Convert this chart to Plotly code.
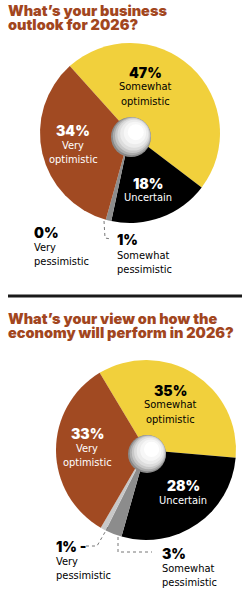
import plotly.graph_objects as go

W, H = 251, 594

# Chart 1 data
labels1 = ["Somewhat optimistic", "Uncertain", "Somewhat pessimistic", "Very pessimistic", "Very optimistic"]
values1 = [47, 18, 1, 0, 34]
# Chart 2 data
labels2 = ["Somewhat optimistic", "Uncertain", "Somewhat pessimistic", "Very pessimistic", "Very optimistic"]
values2 = [35, 28, 3, 1, 33]

colors = ["#F1D03C", "#000000", "#8C8C8C", "#C8C8C8", "#A14A22"]

title1 = ["What\u2019s your business", "outlook for 2026?"]
title2 = ["What\u2019s your view on how the", "economy will perform in 2026?"]

def px(x):
    return x / W

def py(y):
    return 1 - y / H

fig = go.Figure()

def add_pie(values, labels, cx, cy, r, rot):
    fig.add_trace(go.Pie(
        values=values, labels=labels, sort=False, direction="clockwise",
        rotation=rot, marker=dict(colors=colors, line=dict(width=0)),
        textinfo="none", hoverinfo="label+percent", showlegend=False,
        domain=dict(x=[px(cx - r), px(cx + r)], y=[py(cy + r), py(cy - r)]),
    ))

add_pie(values1, labels1, 130, 133, 90, -42)
add_pie(values2, labels2, 146, 450, 90, -31)

shapes = []

def sphere(cx, cy, r):
    layers = [
        (1.00, 0.0, 0.0, "#8a8a8a"),
        (0.95, 0.04, 0.04, "#acacac"),
        (0.88, 0.08, 0.08, "#c8c8c8"),
        (0.80, 0.12, 0.12, "#dddddd"),
        (0.70, 0.16, 0.16, "#ececec"),
        (0.56, 0.20, 0.20, "#f7f7f7"),
        (0.40, 0.24, 0.24, "#ffffff"),
    ]
    for f, ox, oy, col in layers:
        rr = r * f
        dx = ox * r
        dy = oy * r
        shapes.append(dict(type="circle", xref="paper", yref="paper",
                           xsizemode="pixel", ysizemode="pixel",
                           xanchor=px(cx), yanchor=py(cy),
                           x0=dx - rr, x1=dx + rr, y0=dy - rr, y1=dy + rr,
                           fillcolor=col, line=dict(width=0)))

sphere(131, 137, 20)
sphere(147, 454, 19)

def path(points, dash="dot", color="#777777"):
    d = "M " + " L ".join(f"{px(x)},{py(y)}" for x, y in points)
    shapes.append(dict(type="path", xref="paper", yref="paper", path=d,
                       line=dict(color=color, width=1, dash=dash)))

# leader lines
path([(104, 221), (105, 238), (111, 239)])
path([(108, 527), (97, 546), (84, 546)])
path([(118, 537), (118, 552), (152, 552)])

# separator
shapes.append(dict(type="line", xref="paper", yref="paper",
                   x0=px(8), x1=px(242), y0=py(296), y1=py(296),
                   line=dict(color="#1a1a1a", width=3)))

fig.update_layout(shapes=shapes)

TITLE_FONT = dict(family="Inter, Open Sans, sans-serif", size=14.5, weight=900)
BIG = dict(family="Inter, Open Sans, sans-serif", size=14, weight=900)
SMALL = dict(family="DejaVu Sans Condensed, Roboto, sans-serif", size=11)

ann = []

def text(x, y, s, font, color, xanchor="center"):
    f = dict(font)
    f["color"] = color
    ann.append(dict(x=px(x), y=py(y), xref="paper", yref="paper", text=s,
                    showarrow=False, font=f, xanchor=xanchor, yanchor="middle",
                    borderpad=0))

for i, line in enumerate(title1):
    text(7, 10 + i * 14.5, line, TITLE_FONT, "#A2461E", "left")
for i, line in enumerate(title2):
    text(7, 318 + i * 14, line, TITLE_FONT, "#A2461E", "left")

def label(x, y, pct, lines, color, xanchor="center"):
    text(x, y, pct, BIG, color, xanchor)
    for i, l in enumerate(lines):
        text(x, y + 15 + i * 14.5, l, SMALL, color, xanchor)

# chart 1 labels
label(145, 72, "47%", ["Somewhat", "optimistic"], "#000000")
label(73, 130, "34%", ["Very", "optimistic"], "#ffffff")
label(148, 183, "18%", ["Uncertain"], "#ffffff")
label(33, 232, "0%", ["Very", "pessimistic"], "#000000", "left")
label(116, 240, "1%", ["Somewhat", "pessimistic"], "#000000", "left")

# chart 2 labels
label(170, 390, "35%", ["Somewhat", "optimistic"], "#000000")
label(87, 433, "33%", ["Very", "optimistic"], "#ffffff")
label(183, 485, "28%", ["Uncertain"], "#ffffff")
label(55, 546, "1% -", ["Very", "pessimistic"], "#000000", "left")
label(161, 553, "3%", ["Somewhat", "pessimistic"], "#000000", "left")

fig.update_layout(annotations=ann, width=W, height=H,
                  margin=dict(l=0, r=0, t=0, b=0),
                  paper_bgcolor="white", plot_bgcolor="white")

fig.write_html("out.html", config=dict(displayModeBar=False))
